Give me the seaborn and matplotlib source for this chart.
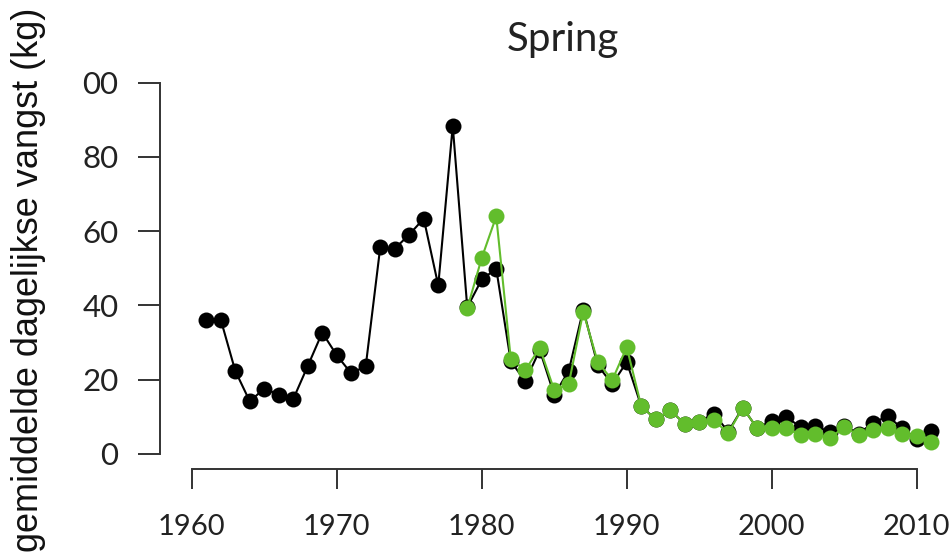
import matplotlib
matplotlib.use('Agg')
import pandas as pd
import seaborn as sns
from matplotlib import pyplot as plt

# values
years_black = list(range(1961, 2012))
catch_black = [36.2, 36.2, 22.4, 14.2, 17.6, 16.0, 14.8, 23.7, 32.7, 26.6,
               21.7, 23.7, 55.7, 55.3, 59.1, 63.4, 45.4, 88.4, 39.5, 47.0,
               49.9, 25.0, 19.6, 28.0, 15.9, 22.4, 38.9, 23.9, 18.8, 24.8,
               12.9, 9.3, 11.8, 8.1, 8.7, 10.9, 6.0, 12.5, 6.9, 9.0,
               9.9, 7.3, 7.5, 6.0, 7.5, 5.5, 8.4, 10.2, 6.9, 4.0,
               6.3]

years_green = list(range(1979, 2012))
catch_green = [39.2, 52.8, 64.0, 25.7, 22.6, 28.6, 17.2, 18.8, 38.3, 24.8,
               19.9, 28.8, 12.9, 9.3, 11.8, 8.1, 8.7, 9.1, 5.6, 12.5,
               6.9, 6.9, 6.9, 5.1, 5.4, 4.2, 7.3, 5.1, 6.5, 6.9,
               5.4, 4.8, 3.3]

x_ticks = [1960, 1970, 1980, 1990, 2000, 2010]
y_ticks = [0, 20, 40, 60, 80, 100]
y_tick_labels = ['0', '20', '40', '60', '80', '00']

sns.set_style('ticks')
plt.rcParams['font.family'] = ['Lato', 'DejaVu Sans']

df_black = pd.DataFrame({'year': years_black, 'vangst': catch_black})
df_green = pd.DataFrame({'year': years_green, 'vangst': catch_green})

fig = plt.figure(figsize=(9.51, 5.58), dpi=100)
ax = fig.add_axes([0.16825, 0.1595, 0.8262, 0.7189])

sns.lineplot(data=df_black, x='year', y='vangst', ax=ax, color='black',
             marker='o', markersize=11.5, markeredgewidth=0, linewidth=1.5,
             clip_on=False)
sns.lineplot(data=df_green, x='year', y='vangst', ax=ax, color='#62bd2c',
             marker='o', markersize=11.5, markeredgewidth=0, linewidth=1.5,
             clip_on=False)

ax.set_xlim(1957.81, 2012)
ax.set_ylim(-4.04, 104)
ax.set_xticks(x_ticks)
ax.set_yticks(y_ticks)
ax.set_yticklabels(y_tick_labels)
ax.set_xlabel('')
ax.set_ylabel('')

sns.despine(ax=ax)
for side in ['left', 'bottom']:
    ax.spines[side].set_linewidth(1.4)
    ax.spines[side].set_color('#333333')
ax.spines['left'].set_bounds(0, 100)
ax.spines['bottom'].set_bounds(1960, 2010)

ax.tick_params(axis='y', length=16, width=1.4, color='#333333', pad=14,
               labelsize=22.5, labelcolor='#222222')
ax.tick_params(axis='x', length=14.5, width=1.4, color='#333333', pad=18,
               labelsize=21, labelcolor='#222222')

fig.text(563 / 951, 1 - 40 / 558, 'Spring', ha='center', va='center',
         fontsize=29, color='#222222')
fig.text(0.0295, 0.498, 'gemiddelde dagelijkse vangst (kg)', rotation=90,
         ha='center', va='center', fontsize=26, family='Liberation Sans',
         color='#111111')

fig.savefig('out.png', dpi=100)
